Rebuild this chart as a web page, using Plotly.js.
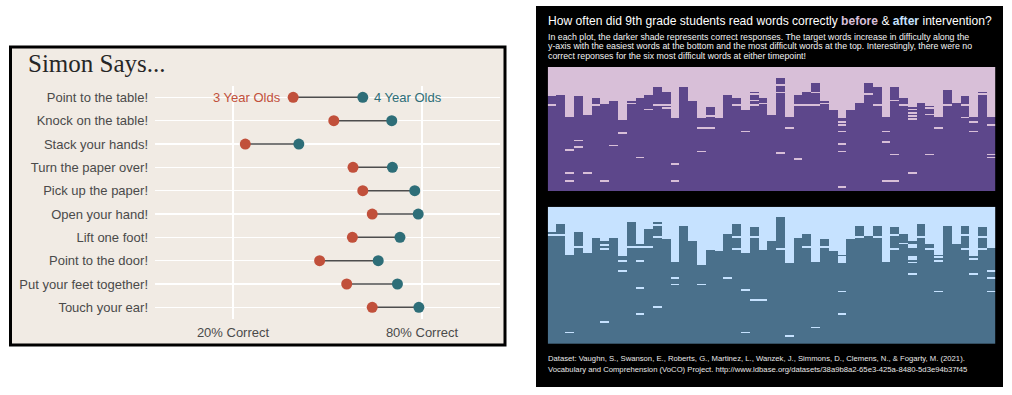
<!DOCTYPE html>
<html><head><meta charset="utf-8">
<script src="https://cdn.plot.ly/plotly-3.0.1.min.js"></script>
<style>html,body{margin:0;padding:0;background:#fff;} #chart{width:1012px;height:395px;}</style>
</head><body><div id="chart"></div>
<script>
// ---------- Left chart: Simon Says dumbbell ----------
const prompts = ["Point to the table!", "Knock on the table!", "Stack your hands!", "Turn the paper over!",
  "Pick up the paper!", "Open your hand!", "Lift one foot!", "Point to the door!",
  "Put your feet together!", "Touch your ear!"];
const age3 = [39.1, 52.0, 23.9, 58.1, 61.2, 64.2, 57.9, 47.5, 56.1, 64.2];
const age4 = [61.2, 70.4, 40.9, 70.6, 77.7, 78.8, 73.0, 66.1, 72.2, 79.0];
const xTickVals = [20, 80];
const xTickText = ["20% Correct", "80% Correct"];
const seriesNames = ["3 Year Olds", "4 Year Olds"];

// ---------- Right chart: word reading skylines ----------
const nWords = 80;   // words (rows), easiest at bottom
const beforeTop = [61, 62, 48, 61, 49, 60, 56, 58, 46, 58, 60, 62, 67, 64, 47, 67, 58, 47, 54, 47,
  62, 60, 52, 64, 60, 49, 73, 48, 62, 64, 70, 58, 52, 47, 52, 57, 70, 67, 48, 67,
  60, 55, 57, 55, 48, 65, 57, 61, 48, 64, 48];
const beforeGaps = [[0,55],[2,26],[2,11],[2,6],[3,32],[3,28],[4,11],[5,55],[6,6],[7,29],[8,37],[9,56],
  [10,21],[11,52],[12,55],[13,55],[13,53],[14,17],[14,6],[17,40],[17,25],[18,48],[18,40],[21,55],
  [22,38],[23,62],[23,58],[23,55],[24,56],[26,68],[26,63],[26,24],[27,40],[28,55],[28,20],[29,55],
  [30,63],[30,55],[31,56],[33,44],[33,42],[33,38],[33,30],[33,25],[33,2],[36,62],[37,55],[38,38],
  [38,31],[38,6],[39,58],[39,23],[39,6],[40,55],[41,54],[41,52],[41,50],[41,48],[41,46],[41,11],
  [43,53],[43,49],[43,23],[44,40],[45,55],[47,55],[47,47],[48,44],[48,38],[49,62],[50,42],[50,23],[50,21]];
const afterTop = [65, 70, 52, 65, 53, 62, 60, 62, 51, 71, 58, 67, 71, 61, 48, 69, 60, 46, 55, 54,
  64, 70, 53, 68, 55, 60, 74, 47, 62, 64, 48, 61, 54, 52, 61, 69, 63, 69, 48, 68,
  64, 60, 70, 58, 52, 69, 58, 69, 51, 68, 56];
const afterGaps = [[0,63],[1,63],[2,6],[3,56],[6,57],[6,55],[6,12],[8,48],[8,42],[9,56],[10,56],[10,48],
  [10,32],[10,17],[11,56],[12,69],[12,62],[12,21],[14,38],[14,34],[17,34],[20,38],[21,62],[21,55],
  [22,31],[22,6],[23,62],[23,25],[24,25],[26,55],[27,4],[29,56],[30,9],[31,56],[33,50],[33,49],
  [33,48],[33,47],[33,30],[33,17],[35,62],[37,62],[39,63],[39,55],[40,58],[41,57],[41,56],[41,50],
  [41,49],[41,47],[41,40],[42,62],[43,55],[44,50],[44,48],[44,30],[47,63],[47,55],[48,49],[48,40],
  [49,62],[49,55],[50,42],[50,38],[50,30]];

const W = 1012, H = 395;
const px = x => x / W;
const py = y => 1 - y / H;
const SANS = "Liberation Sans, Arial, sans-serif";
const RED = "#c1503b", TEAL = "#2e6e78";
const THISTLE = "#d8bfd8", PURPLE = "#5d478b", SLATE1 = "#c6e2ff", SKY4 = "#4a708b";

function buildGrid(tops, gaps) {
  const z = [];
  for (let r = 0; r < nWords; r++) {
    const row = [];
    for (let c = 0; c < tops.length; c++) row.push(r < tops[c] ? 1 : 0);
    z.push(row);
  }
  gaps.forEach(([c, r]) => { z[r][c] = 0; });
  return z;
}
const cols = beforeTop.map((_, i) => i);
const rows = Array.from({length: nWords}, (_, i) => i);

// segments
const segX = [], segY = [];
prompts.forEach((p, i) => { segX.push(age3[i], age4[i], null); segY.push(p, p, null); });

const traces = [
  {type: "scatter", mode: "lines", x: segX, y: segY, xaxis: "x", yaxis: "y",
   line: {color: "#4d4d4d", width: 1.5}, hoverinfo: "skip", showlegend: false},
  {type: "scatter", mode: "markers", x: age3, y: prompts, xaxis: "x", yaxis: "y", name: seriesNames[0],
   marker: {color: RED, size: 11}, showlegend: false},
  {type: "scatter", mode: "markers", x: age4, y: prompts, xaxis: "x", yaxis: "y", name: seriesNames[1],
   marker: {color: TEAL, size: 11}, showlegend: false},
  {type: "heatmap", x: cols, y: rows, z: buildGrid(beforeTop, beforeGaps), xaxis: "x2", yaxis: "y2",
   zmin: 0, zmax: 1, colorscale: [[0, THISTLE], [1, PURPLE]], showscale: false, hoverinfo: "skip"},
  {type: "heatmap", x: cols, y: rows, z: buildGrid(afterTop, afterGaps), xaxis: "x3", yaxis: "y3",
   zmin: 0, zmax: 1, colorscale: [[0, SLATE1], [1, SKY4]], showscale: false, hoverinfo: "skip"}
];

// left plot pixel geometry: 20% -> 233px, 80% -> 422px
const pxPerPct = (422 - 233) / 60;
const lx0 = 155, lx1 = 500;
const xr = [20 + (lx0 - 233) / pxPerPct, 20 + (lx1 - 233) / pxPerPct];

const hidden = {visible: false, showgrid: false, zeroline: false, fixedrange: true};

const layout = {
  width: W, height: H,
  margin: {l: 0, r: 0, t: 0, b: 0},
  paper_bgcolor: "#ffffff", plot_bgcolor: "rgba(0,0,0,0)",
  showlegend: false,
  font: {family: SANS},
  xaxis: {domain: [px(lx0), px(lx1)], range: xr, anchor: "y", tickvals: xTickVals, ticktext: xTickText,
    showgrid: true, gridcolor: "#ffffff", gridwidth: 1.2, zeroline: false, ticks: "", showline: false,
    tickfont: {size: 13, color: "#4a4a4a", family: SANS}, ticklabelstandoff: 4, fixedrange: true},
  yaxis: {domain: [py(319), py(85.7)], type: "category", categoryarray: prompts, categoryorder: "array",
    range: [9.5, -0.5], anchor: "x", showgrid: true, gridcolor: "#ffffff", gridwidth: 1.2, zeroline: false,
    ticks: "", showline: false, tickfont: {size: 13, color: "#4a4a4a", family: SANS}, ticklabelstandoff: 6,
    fixedrange: true},
  xaxis2: Object.assign({domain: [px(547.7), px(995.3)], range: [-0.5, cols.length - 0.5], anchor: "y2"}, hidden),
  yaxis2: Object.assign({domain: [py(191), py(67)], range: [-0.5, nWords - 0.5], anchor: "x2"}, hidden),
  xaxis3: Object.assign({domain: [px(547.7), px(995.3)], range: [-0.5, cols.length - 0.5], anchor: "y3"}, hidden),
  yaxis3: Object.assign({domain: [py(344), py(206.7)], range: [-0.5, nWords - 0.5], anchor: "x3"}, hidden),
  shapes: [
    {type: "rect", xref: "paper", yref: "paper", x0: px(10.5), x1: px(505), y0: py(345), y1: py(47),
     fillcolor: "#f1ebe4", line: {color: "#000000", width: 3}, layer: "below"},
    {type: "rect", xref: "paper", yref: "paper", x0: px(536), x1: px(1003), y0: py(387), y1: py(6),
     fillcolor: "#000000", line: {width: 0}, layer: "below"}
  ],
  annotations: [
    {xref: "paper", yref: "paper", x: px(26), y: py(64), xanchor: "left", yanchor: "middle", showarrow: false,
     text: "Simon Says...", font: {family: "Liberation Serif, Times New Roman, serif", size: 25, color: "#262626"}},
    {xref: "x", yref: "y", x: age3[0], y: prompts[0], xanchor: "right", yanchor: "middle", xshift: -10,
     showarrow: false, text: seriesNames[0], font: {size: 13, color: RED, family: SANS}},
    {xref: "x", yref: "y", x: age4[0], y: prompts[0], xanchor: "left", yanchor: "middle", xshift: 9,
     showarrow: false, text: seriesNames[1], font: {size: 13, color: TEAL, family: SANS}},
    {xref: "paper", yref: "paper", x: px(546), y: py(20.5), xanchor: "left", yanchor: "middle", showarrow: false,
     text: "How often did 9th grade students read words correctly <b><span style='color:" + THISTLE + "'>before</span></b> &amp; <b><span style='color:" + SLATE1 + "'>after</span></b> intervention?",
     font: {size: 12.1, color: "#ffffff", family: SANS}},
    {xref: "paper", yref: "paper", x: px(546), y: py(37), xanchor: "left", yanchor: "middle", showarrow: false,
     text: "In each plot, the darker shade represents correct responses. The target words increase in difficulty along the",
     font: {size: 8.8, color: "#f4f4f4", family: SANS}},
    {xref: "paper", yref: "paper", x: px(546), y: py(46.5), xanchor: "left", yanchor: "middle", showarrow: false,
     text: "y-axis with the easiest words at the bottom and the most difficult words at the top. Interestingly, there were no",
     font: {size: 8.8, color: "#f4f4f4", family: SANS}},
    {xref: "paper", yref: "paper", x: px(546), y: py(56), xanchor: "left", yanchor: "middle", showarrow: false,
     text: "correct reponses for the six most difficult words at either timepoint!",
     font: {size: 8.8, color: "#f4f4f4", family: SANS}},
    {xref: "paper", yref: "paper", x: px(546), y: py(358.5), xanchor: "left", yanchor: "middle", showarrow: false,
     text: "Dataset: Vaughn, S., Swanson, E., Roberts, G., Martinez, L., Wanzek, J., Simmons, D., Clemens, N., &amp; Fogarty, M. (2021).",
     font: {size: 7.7, color: "#e8e8e8", family: SANS}},
    {xref: "paper", yref: "paper", x: px(546), y: py(369.5), xanchor: "left", yanchor: "middle", showarrow: false,
     text: "Vocabulary and Comprehension (VoCO) Project. http://www.ldbase.org/datasets/38a9b8a2-65e3-425a-8480-5d3e94b37f45",
     font: {size: 7.7, color: "#e8e8e8", family: SANS}}
  ]
};

Plotly.newPlot("chart", traces, layout, {staticPlot: true, displayModeBar: false});
</script>
</body></html>
